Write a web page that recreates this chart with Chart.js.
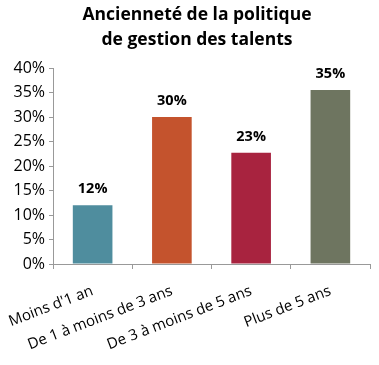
<!DOCTYPE html>
<html>
<head>
<meta charset="utf-8">
<script src="https://cdn.jsdelivr.net/npm/chart.js@4"></script>
<style>
  html, body { margin: 0; padding: 0; background: #fff; }
  #wrap { width: 379px; height: 365px; }
</style>
</head>
<body>
<div id="wrap"><canvas id="talentChart"></canvas></div>
<script>
// données
const categories = ['Moins d\'1 an', 'De 1 à moins de 3 ans', 'De 3 à moins de 5 ans', 'Plus de 5 ans'];
const values = [12, 30, 22.7, 35.5];
const valueLabels = ['12%', '30%', '23%', '35%'];
const barColors = ['#4F8D9E', '#C4532D', '#A8233F', '#6E7560'];
const titleLines = ['Ancienneté de la politique', 'de gestion des talents'];

// titre centré un peu à droite, comme dans l'original
const chartTitle = {
    id: 'chartTitle',
    afterDraw(chart) {
        const ctx = chart.ctx;
        ctx.save();
        ctx.font = 'bold 17.5px "Open Sans", sans-serif';
        ctx.fillStyle = '#000';
        ctx.textAlign = 'center';
        ctx.textBaseline = 'middle';
        ctx.fillText(titleLines[0], 197, 15);
        ctx.fillText(titleLines[1], 197, 40);
        ctx.restore();
    }
};

// étiquettes au-dessus des barres
const barLabels = {
    id: 'barLabels',
    afterDatasetsDraw(chart) {
        const ctx = chart.ctx;
        const meta = chart.getDatasetMeta(0);
        ctx.save();
        ctx.font = 'bold 14.5px "Open Sans", sans-serif';
        ctx.fillStyle = '#000';
        ctx.textAlign = 'center';
        ctx.textBaseline = 'middle';
        meta.data.forEach((bar, i) => {
            ctx.fillText(valueLabels[i], bar.x, bar.y - 16);
        });
        ctx.restore();
    }
};

const ctx = document.getElementById('talentChart').getContext('2d');
new Chart(ctx, {
    type: 'bar',
    data: {
        labels: categories,
        datasets: [{
            data: values,
            backgroundColor: barColors,
            barPercentage: 0.5,
            categoryPercentage: 1
        }]
    },
    options: {
        responsive: true,
        maintainAspectRatio: false,
        animation: false,
        layout: { padding: { left: 0, right: 9, top: 68, bottom: 0 } },
        plugins: {
            legend: { display: false },
            tooltip: { enabled: false },
            title: { display: false }
        },
        scales: {
            x: {
                grid: { display: true, drawOnChartArea: false, color: '#999', tickLength: 5, offset: true },
                border: { color: '#999' },
                ticks: {
                    color: '#000',
                    font: { family: '"Open Sans", sans-serif', size: 15 },
                    minRotation: 21,
                    maxRotation: 21,
                    padding: 13
                },
                afterFit(axis) {
                    axis.height = 101;
                    axis.paddingLeft = 0;
                    axis.paddingRight = 0;
                }
            },
            y: {
                min: 0,
                max: 40,
                grid: { display: true, drawOnChartArea: false, color: '#999', tickLength: 4 },
                border: { color: '#999' },
                ticks: {
                    stepSize: 5,
                    color: '#000',
                    font: { family: '"Open Sans", sans-serif', size: 16 },
                    padding: 4,
                    callback: v => v + '%'
                },
                afterFit(axis) { axis.width = 53; }
            }
        }
    },
    plugins: [barLabels, chartTitle]
});
</script>
</body>
</html>
